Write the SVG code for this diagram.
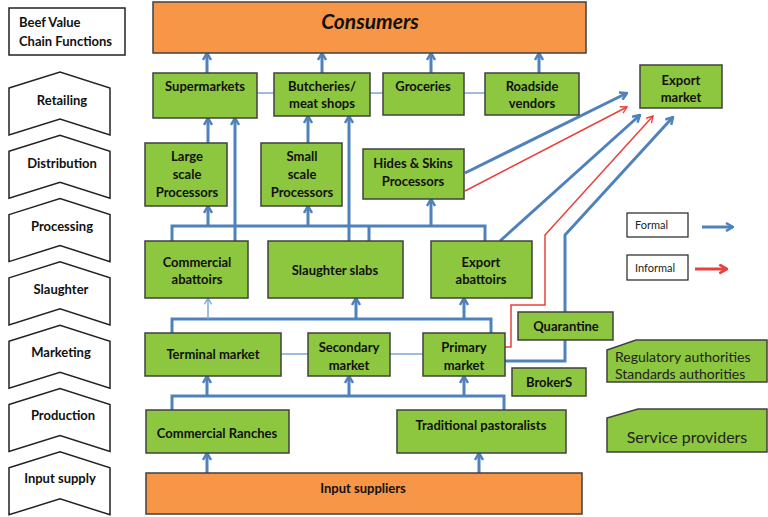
<svg xmlns="http://www.w3.org/2000/svg" width="768" height="517" viewBox="0 0 768 517">
<defs>
<style>
.g{fill:#8dc63f;stroke:#404040;stroke-width:1.5}
.o{fill:#f79646;stroke:#404040;stroke-width:1.5}
.w{fill:#fff;stroke:#222;stroke-width:1.5}
.t{font-family:Lato,"Liberation Sans",sans-serif;font-weight:bold;font-size:13px;fill:#111;text-anchor:middle}
.tl{font-family:Lato,"Liberation Sans",sans-serif;font-size:13px;fill:#222}
.b{fill:none;stroke:#4f81bd;stroke-width:3}
.bt{fill:none;stroke:#7ea6da;stroke-width:1.5}
.r{fill:none;stroke:#e8413c;stroke-width:1.5}
</style>
<marker id="ab" viewBox="0 0 10 10" refX="9" refY="5" markerWidth="10" markerHeight="10" markerUnits="userSpaceOnUse" orient="auto">
<path d="M2,1 L9,5 L2,9" fill="none" stroke="#4f81bd" stroke-width="2.5"/>
</marker>
<marker id="at" viewBox="0 0 10 10" refX="9" refY="5" markerWidth="9" markerHeight="9" markerUnits="userSpaceOnUse" orient="auto">
<path d="M2,1 L9,5 L2,9" fill="none" stroke="#7ea6da" stroke-width="1.5"/>
</marker>
<marker id="ar" viewBox="0 0 10 10" refX="9" refY="5" markerWidth="9" markerHeight="9" markerUnits="userSpaceOnUse" orient="auto">
<path d="M2,1 L9,5 L2,9" fill="none" stroke="#e8413c" stroke-width="1.5"/>
</marker>
<marker id="arb" viewBox="0 0 10 10" refX="9" refY="5" markerWidth="11" markerHeight="11" markerUnits="userSpaceOnUse" orient="auto">
<path d="M2,1 L9,5 L2,9" fill="none" stroke="#e8413c" stroke-width="2.5"/>
</marker>
<path id="chev" d="M9,16 L60,0 L110,16 L110,63 L60,47 L9,63 Z"/>
</defs>

<g id="functions">
<rect class="w" x="9" y="8" width="116" height="47"/>
<text class="t" style="text-anchor:start" x="19" y="27">Beef Value</text>
<text class="t" style="text-anchor:start" x="19" y="46">Chain Functions</text>
<g id="f-retailing"><use href="#chev" class="w" y="72"/><text class="t" x="62" y="105">Retailing</text></g>
<g id="f-distribution"><use href="#chev" class="w" y="135.3"/><text class="t" x="62" y="168">Distribution</text></g>
<g id="f-processing"><use href="#chev" class="w" y="198.6"/><text class="t" x="62" y="231">Processing</text></g>
<g id="f-slaughter"><use href="#chev" class="w" y="261.9"/><text class="t" x="61" y="294">Slaughter</text></g>
<g id="f-marketing"><use href="#chev" class="w" y="325.2"/><text class="t" x="61" y="357">Marketing</text></g>
<g id="f-production"><use href="#chev" class="w" y="388.5"/><text class="t" x="63" y="420">Production</text></g>
<g id="f-input"><use href="#chev" class="w" y="451.8"/><text class="t" x="60" y="483">Input supply</text></g>
</g>

<g id="connectors">
<line class="b" x1="207" y1="73" x2="207" y2="53" marker-end="url(#ab)"/>
<line class="b" x1="322" y1="73" x2="322" y2="53" marker-end="url(#ab)"/>
<line class="b" x1="431" y1="73" x2="431" y2="53" marker-end="url(#ab)"/>
<line class="b" x1="539" y1="73" x2="539" y2="53" marker-end="url(#ab)"/>
<line class="bt" x1="257" y1="93" x2="274" y2="93"/>
<line class="bt" x1="370" y1="93" x2="383" y2="93"/>
<line class="bt" x1="464" y1="93" x2="485" y2="93"/>
<line class="b" x1="208" y1="143" x2="208" y2="118" marker-end="url(#ab)"/>
<line class="b" x1="235" y1="241" x2="235" y2="118" marker-end="url(#ab)"/>
<line class="b" x1="308" y1="143" x2="308" y2="116" marker-end="url(#ab)"/>
<line class="b" x1="349" y1="241" x2="349" y2="116" marker-end="url(#ab)"/>
<polyline class="b" points="172,241 172,226 485,226 485,241"/>
<line class="b" x1="369" y1="226" x2="369" y2="241"/>
<line class="b" x1="208" y1="226" x2="208" y2="206" marker-end="url(#ab)"/>
<line class="b" x1="308" y1="226" x2="308" y2="206" marker-end="url(#ab)"/>
<line class="b" x1="431" y1="226" x2="431" y2="199" marker-end="url(#ab)"/>
<line class="b" x1="465" y1="173" x2="627" y2="93" marker-end="url(#ab)"/>
<line class="r" x1="465" y1="191" x2="627" y2="107" marker-end="url(#ar)"/>
<line class="b" x1="500" y1="241" x2="640" y2="115" marker-end="url(#ab)"/>
<polyline class="r" points="505,347 511,347 511,305 545,305 545,235 653,116" marker-end="url(#ar)"/>
<polyline class="b" points="505,361 565,361 565,340"/>
<polyline class="b" points="565,312 565,235 673,117" marker-end="url(#ab)"/>
<polyline class="b" points="172,333 172,319 491,319 491,333"/>
<line class="bt" x1="208" y1="319" x2="208" y2="298" marker-end="url(#at)"/>
<line class="b" x1="356" y1="319" x2="356" y2="298" marker-end="url(#ab)"/>
<line class="b" x1="464" y1="319" x2="464" y2="298" marker-end="url(#ab)"/>
<line class="bt" x1="281" y1="354" x2="308" y2="354"/>
<line class="bt" x1="390" y1="354" x2="423" y2="354"/>
<polyline class="b" points="172,410 172,396 504,396 504,410"/>
<line class="b" x1="207" y1="396" x2="207" y2="376" marker-end="url(#ab)"/>
<line class="b" x1="349" y1="396" x2="349" y2="376" marker-end="url(#ab)"/>
<line class="b" x1="464" y1="396" x2="464" y2="376" marker-end="url(#ab)"/>
<line class="b" x1="207" y1="473" x2="207" y2="453" marker-end="url(#ab)"/>
<line class="b" x1="479" y1="473" x2="479" y2="453" marker-end="url(#ab)"/>
</g>

<g id="consumers"><rect class="o" x="153" y="2" width="433" height="51"/>
<text class="t" x="370" y="29" style="font-size:21px;font-style:italic">Consumers</text></g>

<g id="supermarkets"><rect class="g" x="153" y="73" width="104" height="45"/><text class="t" x="205" y="91">Supermarkets</text></g>
<g id="butcheries"><rect class="g" x="274" y="73" width="96" height="43"/><text class="t" x="322" y="91">Butcheries/</text><text class="t" x="322" y="108">meat shops</text></g>
<g id="groceries"><rect class="g" x="383" y="73" width="81" height="42"/><text class="t" x="423" y="91">Groceries</text></g>
<g id="roadside"><rect class="g" x="485" y="73" width="94" height="42"/><text class="t" x="532" y="91">Roadside</text><text class="t" x="532" y="108">vendors</text></g>
<g id="export-market"><rect class="g" x="640" y="65" width="82" height="43"/><text class="t" x="681" y="85">Export</text><text class="t" x="681" y="102">market</text></g>

<g id="large-processors"><rect class="g" x="145" y="143" width="82" height="63"/><text class="t" x="187" y="161">Large</text><text class="t" x="187" y="179">scale</text><text class="t" x="187" y="197">Processors</text></g>
<g id="small-processors"><rect class="g" x="261" y="143" width="81" height="63"/><text class="t" x="302" y="161">Small</text><text class="t" x="302" y="179">scale</text><text class="t" x="302" y="197">Processors</text></g>
<g id="hides"><rect class="g" x="363" y="149" width="101" height="50"/><text class="t" x="413" y="168">Hides &amp; Skins</text><text class="t" x="413" y="186">Processors</text></g>

<g id="commercial-abattoirs"><rect class="g" x="145" y="241" width="103" height="57"/><text class="t" x="197" y="267">Commercial</text><text class="t" x="197" y="284">abattoirs</text></g>
<g id="slaughter-slabs"><rect class="g" x="268" y="241" width="135" height="57"/><text class="t" x="335" y="275">Slaughter slabs</text></g>
<g id="export-abattoirs"><rect class="g" x="431" y="241" width="101" height="57"/><text class="t" x="481" y="267">Export</text><text class="t" x="481" y="284">abattoirs</text></g>

<g id="quarantine"><rect class="g" x="518" y="312" width="95" height="28"/><text class="t" x="566" y="331">Quarantine</text></g>
<g id="terminal"><rect class="g" x="145" y="333" width="136" height="43"/><text class="t" x="213" y="359">Terminal market</text></g>
<g id="secondary"><rect class="g" x="308" y="333" width="82" height="43"/><text class="t" x="349" y="352">Secondary</text><text class="t" x="349" y="370">market</text></g>
<g id="primary"><rect class="g" x="423" y="333" width="82" height="43"/><text class="t" x="464" y="352">Primary</text><text class="t" x="464" y="370">market</text></g>
<g id="brokers"><rect class="g" x="512" y="368" width="74" height="28"/><text class="t" x="549" y="387">BrokerS</text></g>

<g id="regulatory"><path class="g" d="M607,350 L636,340 L767,340 L767,382 L607,382 Z"/>
<text class="tl" style="font-size:14px" x="615" y="362">Regulatory authorities</text>
<text class="tl" style="font-size:14px" x="615" y="379">Standards authorities</text></g>

<g id="ranches"><rect class="g" x="146" y="410" width="143" height="43"/><text class="t" x="217" y="438">Commercial Ranches</text></g>
<g id="pastoralists"><rect class="g" x="397" y="410" width="169" height="43"/><text class="t" x="481" y="430">Traditional pastoralists</text></g>
<g id="service"><path class="g" d="M607,418 L638,409 L767,409 L767,452 L607,452 Z"/>
<text class="tl" style="font-size:16px;text-anchor:middle" x="687" y="443">Service providers</text></g>

<g id="input-suppliers"><rect class="o" x="146" y="473" width="436" height="41"/><text class="t" x="363" y="493">Input suppliers</text></g>

<g id="legend">
<rect class="w" x="627" y="213" width="61" height="24" style="stroke-width:1.2"/>
<text class="tl" style="font-size:11px" x="635" y="229">Formal</text>
<line class="b" x1="702" y1="227" x2="733" y2="227" marker-end="url(#ab)"/>
<rect class="w" x="627" y="255" width="61" height="25" style="stroke-width:1.2"/>
<text class="tl" style="font-size:11px" x="635" y="272">Informal</text>
<line x1="695" y1="269" x2="727" y2="269" style="stroke:#e8413c;stroke-width:3" marker-end="url(#arb)"/>
</g>
</svg>
